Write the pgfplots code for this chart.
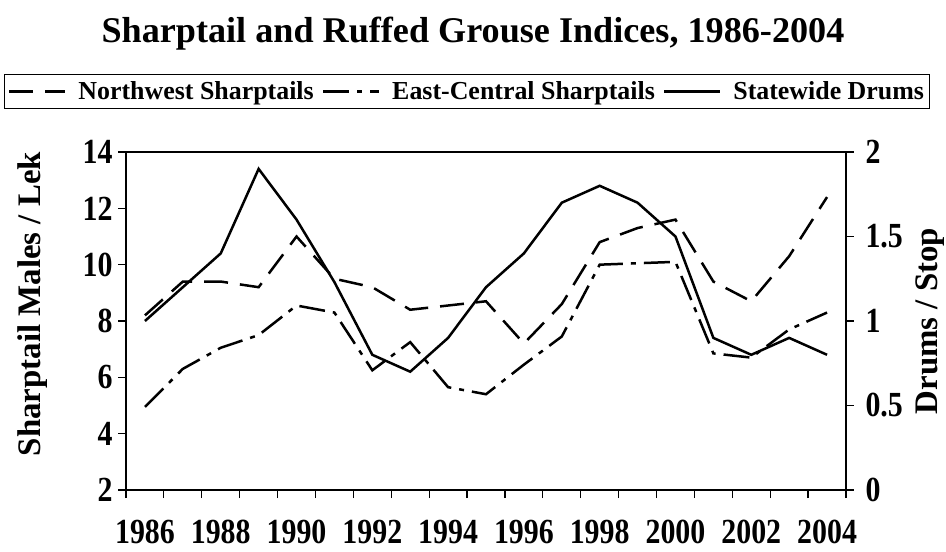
\documentclass[border=0pt]{standalone}
\usepackage{fontspec}
\setmainfont{Liberation Serif}
\usepackage{pgfplots}
\pgfplotsset{compat=1.18}
\pgfplotstableread{
year nw ec
1986 8.2 4.95
1987 9.4 6.3
1988 9.4 7.05
1989 9.2 7.5
1990 11.0 8.55
1991 9.5 8.3
1992 9.2 6.25
1993 8.4 7.25
1994 8.55 5.65
1995 8.7 5.4
1996 7.2 6.45
1997 8.6 7.45
1998 10.8 10.0
1999 11.3 10.05
2000 11.6 10.1
2001 9.4 6.85
2002 8.7 6.7
2003 10.3 7.7
2004 12.4 8.3
}\sharp
\pgfplotstableread{
year drums
1986 1.0
1987 1.2
1988 1.4
1989 1.9
1990 1.6
1991 1.23
1992 0.8
1993 0.7
1994 0.9
1995 1.2
1996 1.4
1997 1.7
1998 1.8
1999 1.7
2000 1.5
2001 0.9
2002 0.8
2003 0.9
2004 0.8
}\drums
\tikzset{
  nwstyle/.style={black, line width=2.5bp, dash pattern=on 24bp off 12bp},
  ecstyle/.style={black, line width=2.5bp, dash pattern=on 26bp off 8bp on 5bp off 8bp},
  drstyle/.style={black, line width=2.5bp},
}
\pgfplotsset{
  common/.style={
    at={(126bp,62bp)}, anchor=south west,
    width=720bp, height=338bp, scale only axis,
    xmin=1985.5, xmax=2004.5,
    tick align=outside,
    major tick length=8bp,
    tick style={black, line width=1.2bp},
    axis line style={line width=2.5bp},
    /pgf/number format/assume math mode=true,
    ticklabel style={font=\fontsize{30}{30}\selectfont\bfseries, yscale=1.18},
    label style={font=\fontsize{33}{33}\selectfont\bfseries},
  }
}
\begin{document}
\begin{tikzpicture}
\path[use as bounding box] (0,0) rectangle (946bp,552bp);
\node[font=\fontsize{36.3}{40}\selectfont\bfseries] at (473bp,518bp) {Sharptail and Ruffed Grouse Indices, 1986-2004};
\begin{axis}[common,
  ymin=2, ymax=14, ytick={2,4,...,14},
  ytick pos=left, xtick pos=bottom,
  yticklabel style={xshift=-2bp},
  xtick={1985.5,1986.5,...,2004.5}, xticklabels={},
  extra x ticks={1986,1988,...,2004},
  extra x tick labels={1986,1988,1990,1992,1994,1996,1998,2000,2002,2004},
  extra x tick style={tick style={draw=none}, xticklabel style={yshift=-15bp}},
  ylabel={Sharptail Males / Lek},
  ylabel style={at={(axis description cs:-0.13,0.55)}, anchor=center},
]
\addplot[nwstyle] table[x=year,y=nw] {\sharp};
\addplot[ecstyle] table[x=year,y=ec] {\sharp};
\end{axis}
\begin{axis}[common,
  ymin=0, ymax=2, ytick={0,0.5,...,2},
  axis y line*=right, axis x line=none,
  yticklabel style={xshift=8bp},
  ylabel={Drums / Stop},
  ylabel style={at={(axis description cs:1.117,0.5)}, anchor=center},
  legend columns=3,
  legend style={at={(axis description cs:0.4736,1.179)}, anchor=center,
    draw=black, line width=1bp, font=\fontsize{26}{26}\selectfont\bfseries,
    inner xsep=3bp, inner ysep=5bp,
    /tikz/every even column/.style={column sep=6bp},
    /tikz/every odd column/.style={column sep=10bp}},
  legend image code/.code={\draw[#1] (0bp,0bp) -- (56bp,0bp);},
]
\addlegendimage{nwstyle}
\addlegendentry{Northwest Sharptails}
\addlegendimage{ecstyle}
\addlegendentry{East-Central Sharptails}
\addplot[drstyle] table[x=year,y=drums] {\drums};
\addlegendentry{Statewide Drums}
\end{axis}
\end{tikzpicture}
\end{document}
